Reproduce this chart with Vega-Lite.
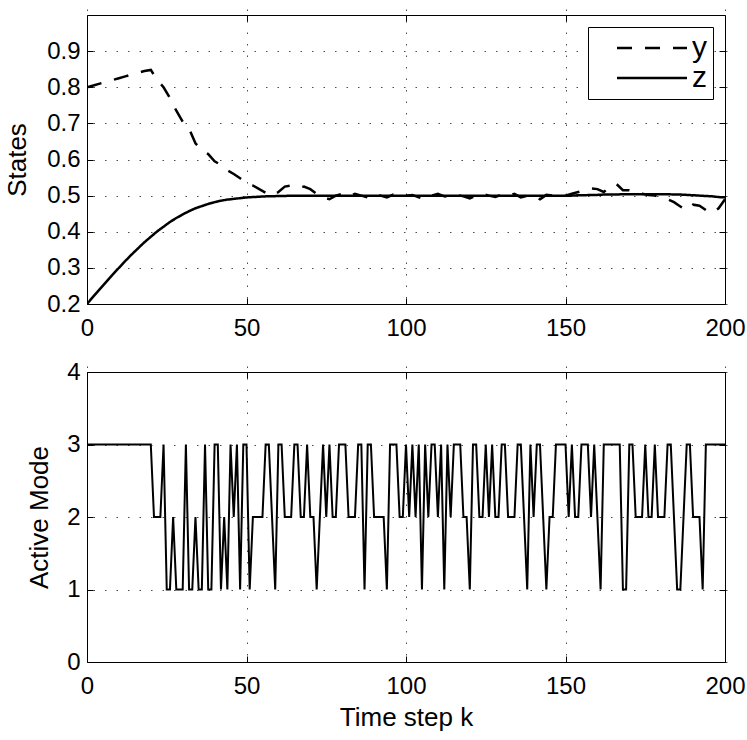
{
  "$schema": "https://vega.github.io/schema/vega-lite/v6.json",
  "autosize": "pad",
  "padding": {"left": 4, "top": 14, "right": 20, "bottom": 6},
  "spacing": 18,
  "config": {
    "font": "Liberation Sans",
    "view": {"stroke": "#000", "strokeWidth": 1},
    "axis": {
      "domain": false,
      "grid": true,
      "gridColor": "#000",
      "gridDash": [1.5, 10],
      "gridOpacity": 0.7,
      "tickColor": "#000",
      "tickSize": 6,
      "offset": -6,
      "labelFlush": false,
      "labelFont": "Liberation Sans",
      "labelFontSize": 24,
      "labelColor": "#000",
      "titleFont": "Liberation Sans",
      "titleFontSize": 26,
      "titleFontWeight": "normal",
      "titleColor": "#000"
    },
    "axisX": {"labelPadding": 12},
    "axisY": {"labelPadding": 7},
    "legend": {
      "orient": "top-right",
      "offset": 12,
      "strokeColor": "#000",
      "fillColor": "#fff",
      "padding": 6,
      "rowPadding": 0,
      "symbolType": "M-1,0H6",
      "symbolSize": 400,
      "symbolOffset": 18,
      "symbolStrokeWidth": 2.5,
      "symbolStrokeColor": "#000",
      "labelFont": "Liberation Sans",
      "labelFontSize": 30,
      "labelColor": "#000",
      "labelOffset": 50
    }
  },
  "datasets": {
    "states": [
      {"k": 0, "y": 0.800, "z": 0.200}, {"k": 2, "y": 0.805, "z": 0.221}, {"k": 4, "y": 0.810, "z": 0.241},
      {"k": 6, "y": 0.815, "z": 0.261}, {"k": 8, "y": 0.820, "z": 0.281}, {"k": 10, "y": 0.825, "z": 0.300},
      {"k": 12, "y": 0.830, "z": 0.319}, {"k": 14, "y": 0.835, "z": 0.337}, {"k": 16, "y": 0.840, "z": 0.354},
      {"k": 18, "y": 0.845, "z": 0.371}, {"k": 20, "y": 0.848, "z": 0.386}, {"k": 22, "y": 0.820, "z": 0.401},
      {"k": 24, "y": 0.800, "z": 0.414}, {"k": 26, "y": 0.770, "z": 0.427}, {"k": 28, "y": 0.735, "z": 0.438},
      {"k": 30, "y": 0.705, "z": 0.448}, {"k": 32, "y": 0.685, "z": 0.457}, {"k": 34, "y": 0.645, "z": 0.465},
      {"k": 36, "y": 0.625, "z": 0.471}, {"k": 38, "y": 0.615, "z": 0.477}, {"k": 40, "y": 0.595, "z": 0.482},
      {"k": 42, "y": 0.585, "z": 0.486}, {"k": 44, "y": 0.570, "z": 0.489}, {"k": 46, "y": 0.560, "z": 0.491},
      {"k": 48, "y": 0.548, "z": 0.493}, {"k": 50, "y": 0.535, "z": 0.495}, {"k": 52, "y": 0.528, "z": 0.496},
      {"k": 54, "y": 0.518, "z": 0.497}, {"k": 56, "y": 0.508, "z": 0.498}, {"k": 58, "y": 0.500, "z": 0.498},
      {"k": 60, "y": 0.510, "z": 0.499}, {"k": 62, "y": 0.525, "z": 0.499}, {"k": 64, "y": 0.528, "z": 0.500},
      {"k": 66, "y": 0.522, "z": 0.500}, {"k": 68, "y": 0.525, "z": 0.500}, {"k": 70, "y": 0.518, "z": 0.500},
      {"k": 72, "y": 0.505, "z": 0.500}, {"k": 74, "y": 0.495, "z": 0.500}, {"k": 76, "y": 0.490, "z": 0.500},
      {"k": 78, "y": 0.500, "z": 0.500}, {"k": 80, "y": 0.505, "z": 0.500}, {"k": 82, "y": 0.498, "z": 0.500},
      {"k": 84, "y": 0.505, "z": 0.500}, {"k": 86, "y": 0.500, "z": 0.500}, {"k": 88, "y": 0.495, "z": 0.500},
      {"k": 90, "y": 0.505, "z": 0.500}, {"k": 92, "y": 0.500, "z": 0.500}, {"k": 94, "y": 0.495, "z": 0.500},
      {"k": 96, "y": 0.503, "z": 0.500}, {"k": 98, "y": 0.498, "z": 0.500}, {"k": 100, "y": 0.500, "z": 0.500},
      {"k": 102, "y": 0.502, "z": 0.500}, {"k": 104, "y": 0.495, "z": 0.500}, {"k": 106, "y": 0.490, "z": 0.500},
      {"k": 108, "y": 0.500, "z": 0.500}, {"k": 110, "y": 0.505, "z": 0.500}, {"k": 112, "y": 0.498, "z": 0.500},
      {"k": 114, "y": 0.496, "z": 0.500}, {"k": 116, "y": 0.502, "z": 0.500}, {"k": 118, "y": 0.498, "z": 0.500},
      {"k": 120, "y": 0.492, "z": 0.500}, {"k": 122, "y": 0.500, "z": 0.500}, {"k": 124, "y": 0.505, "z": 0.500},
      {"k": 126, "y": 0.500, "z": 0.500}, {"k": 128, "y": 0.496, "z": 0.500}, {"k": 130, "y": 0.503, "z": 0.500},
      {"k": 132, "y": 0.499, "z": 0.500}, {"k": 134, "y": 0.505, "z": 0.500}, {"k": 136, "y": 0.495, "z": 0.500},
      {"k": 138, "y": 0.500, "z": 0.500}, {"k": 140, "y": 0.497, "z": 0.500}, {"k": 142, "y": 0.490, "z": 0.500},
      {"k": 144, "y": 0.502, "z": 0.500}, {"k": 146, "y": 0.500, "z": 0.500}, {"k": 148, "y": 0.497, "z": 0.500},
      {"k": 150, "y": 0.500, "z": 0.500}, {"k": 152, "y": 0.505, "z": 0.500}, {"k": 154, "y": 0.510, "z": 0.501},
      {"k": 156, "y": 0.515, "z": 0.501}, {"k": 158, "y": 0.520, "z": 0.502}, {"k": 160, "y": 0.518, "z": 0.502},
      {"k": 162, "y": 0.510, "z": 0.503}, {"k": 164, "y": 0.525, "z": 0.503}, {"k": 166, "y": 0.532, "z": 0.503},
      {"k": 168, "y": 0.515, "z": 0.504}, {"k": 170, "y": 0.515, "z": 0.504}, {"k": 172, "y": 0.508, "z": 0.504},
      {"k": 174, "y": 0.505, "z": 0.504}, {"k": 176, "y": 0.502, "z": 0.504}, {"k": 178, "y": 0.500, "z": 0.504},
      {"k": 180, "y": 0.495, "z": 0.504}, {"k": 182, "y": 0.490, "z": 0.504}, {"k": 184, "y": 0.482, "z": 0.503},
      {"k": 186, "y": 0.470, "z": 0.503}, {"k": 188, "y": 0.460, "z": 0.502}, {"k": 190, "y": 0.475, "z": 0.501},
      {"k": 192, "y": 0.472, "z": 0.500}, {"k": 194, "y": 0.460, "z": 0.499}, {"k": 196, "y": 0.452, "z": 0.498},
      {"k": 198, "y": 0.465, "z": 0.496}, {"k": 200, "y": 0.490, "z": 0.495}
    ],
    "modes": [
      {"k": 0, "mode": 3}, {"k": 1, "mode": 3}, {"k": 2, "mode": 3}, {"k": 3, "mode": 3}, {"k": 4, "mode": 3},
      {"k": 5, "mode": 3}, {"k": 6, "mode": 3}, {"k": 7, "mode": 3}, {"k": 8, "mode": 3}, {"k": 9, "mode": 3},
      {"k": 10, "mode": 3}, {"k": 11, "mode": 3}, {"k": 12, "mode": 3}, {"k": 13, "mode": 3}, {"k": 14, "mode": 3},
      {"k": 15, "mode": 3}, {"k": 16, "mode": 3}, {"k": 17, "mode": 3}, {"k": 18, "mode": 3}, {"k": 19, "mode": 3},
      {"k": 20, "mode": 3}, {"k": 21, "mode": 2}, {"k": 22, "mode": 2}, {"k": 23, "mode": 2}, {"k": 24, "mode": 3},
      {"k": 25, "mode": 1}, {"k": 26, "mode": 1}, {"k": 27, "mode": 2}, {"k": 28, "mode": 1}, {"k": 29, "mode": 1},
      {"k": 30, "mode": 1}, {"k": 31, "mode": 3}, {"k": 32, "mode": 1}, {"k": 33, "mode": 1}, {"k": 34, "mode": 2},
      {"k": 35, "mode": 1}, {"k": 36, "mode": 1}, {"k": 37, "mode": 3}, {"k": 38, "mode": 1}, {"k": 39, "mode": 1},
      {"k": 40, "mode": 3}, {"k": 41, "mode": 3}, {"k": 42, "mode": 1}, {"k": 43, "mode": 2}, {"k": 44, "mode": 1},
      {"k": 45, "mode": 3}, {"k": 46, "mode": 2}, {"k": 47, "mode": 3}, {"k": 48, "mode": 1}, {"k": 49, "mode": 3},
      {"k": 50, "mode": 3}, {"k": 51, "mode": 1}, {"k": 52, "mode": 2}, {"k": 53, "mode": 2}, {"k": 54, "mode": 2},
      {"k": 55, "mode": 2}, {"k": 56, "mode": 3}, {"k": 57, "mode": 3}, {"k": 58, "mode": 2}, {"k": 59, "mode": 1},
      {"k": 60, "mode": 3}, {"k": 61, "mode": 3}, {"k": 62, "mode": 2}, {"k": 63, "mode": 2}, {"k": 64, "mode": 2},
      {"k": 65, "mode": 3}, {"k": 66, "mode": 3}, {"k": 67, "mode": 2}, {"k": 68, "mode": 2}, {"k": 69, "mode": 3},
      {"k": 70, "mode": 2}, {"k": 71, "mode": 2}, {"k": 72, "mode": 1}, {"k": 73, "mode": 2}, {"k": 74, "mode": 3},
      {"k": 75, "mode": 2}, {"k": 76, "mode": 3}, {"k": 77, "mode": 2}, {"k": 78, "mode": 2}, {"k": 79, "mode": 3},
      {"k": 80, "mode": 3}, {"k": 81, "mode": 3}, {"k": 82, "mode": 2}, {"k": 83, "mode": 2}, {"k": 84, "mode": 2},
      {"k": 85, "mode": 3}, {"k": 86, "mode": 3}, {"k": 87, "mode": 1}, {"k": 88, "mode": 3}, {"k": 89, "mode": 3},
      {"k": 90, "mode": 2}, {"k": 91, "mode": 2}, {"k": 92, "mode": 2}, {"k": 93, "mode": 2}, {"k": 94, "mode": 1},
      {"k": 95, "mode": 3}, {"k": 96, "mode": 3}, {"k": 97, "mode": 3}, {"k": 98, "mode": 2}, {"k": 99, "mode": 2},
      {"k": 100, "mode": 3}, {"k": 101, "mode": 2}, {"k": 102, "mode": 3}, {"k": 103, "mode": 2}, {"k": 104, "mode": 3},
      {"k": 105, "mode": 1}, {"k": 106, "mode": 3}, {"k": 107, "mode": 2}, {"k": 108, "mode": 3}, {"k": 109, "mode": 3},
      {"k": 110, "mode": 2}, {"k": 111, "mode": 3}, {"k": 112, "mode": 1}, {"k": 113, "mode": 3}, {"k": 114, "mode": 2},
      {"k": 115, "mode": 3}, {"k": 116, "mode": 3}, {"k": 117, "mode": 3}, {"k": 118, "mode": 2}, {"k": 119, "mode": 2},
      {"k": 120, "mode": 1}, {"k": 121, "mode": 3}, {"k": 122, "mode": 3}, {"k": 123, "mode": 2}, {"k": 124, "mode": 2},
      {"k": 125, "mode": 3}, {"k": 126, "mode": 2}, {"k": 127, "mode": 3}, {"k": 128, "mode": 2}, {"k": 129, "mode": 2},
      {"k": 130, "mode": 3}, {"k": 131, "mode": 3}, {"k": 132, "mode": 2}, {"k": 133, "mode": 2}, {"k": 134, "mode": 2},
      {"k": 135, "mode": 3}, {"k": 136, "mode": 3}, {"k": 137, "mode": 2}, {"k": 138, "mode": 1}, {"k": 139, "mode": 3},
      {"k": 140, "mode": 2}, {"k": 141, "mode": 3}, {"k": 142, "mode": 3}, {"k": 143, "mode": 2}, {"k": 144, "mode": 1},
      {"k": 145, "mode": 2}, {"k": 146, "mode": 2}, {"k": 147, "mode": 3}, {"k": 148, "mode": 3}, {"k": 149, "mode": 3},
      {"k": 150, "mode": 3}, {"k": 151, "mode": 2}, {"k": 152, "mode": 3}, {"k": 153, "mode": 2}, {"k": 154, "mode": 2},
      {"k": 155, "mode": 3}, {"k": 156, "mode": 3}, {"k": 157, "mode": 3}, {"k": 158, "mode": 2}, {"k": 159, "mode": 3},
      {"k": 160, "mode": 2}, {"k": 161, "mode": 1}, {"k": 162, "mode": 3}, {"k": 163, "mode": 3}, {"k": 164, "mode": 3},
      {"k": 165, "mode": 3}, {"k": 166, "mode": 3}, {"k": 167, "mode": 3}, {"k": 168, "mode": 1}, {"k": 169, "mode": 1},
      {"k": 170, "mode": 3}, {"k": 171, "mode": 3}, {"k": 172, "mode": 2}, {"k": 173, "mode": 2}, {"k": 174, "mode": 2},
      {"k": 175, "mode": 3}, {"k": 176, "mode": 2}, {"k": 177, "mode": 2}, {"k": 178, "mode": 3}, {"k": 179, "mode": 2},
      {"k": 180, "mode": 2}, {"k": 181, "mode": 2}, {"k": 182, "mode": 3}, {"k": 183, "mode": 3}, {"k": 184, "mode": 2},
      {"k": 185, "mode": 1}, {"k": 186, "mode": 1}, {"k": 187, "mode": 2}, {"k": 188, "mode": 3}, {"k": 189, "mode": 3},
      {"k": 190, "mode": 2}, {"k": 191, "mode": 2}, {"k": 192, "mode": 2}, {"k": 193, "mode": 1}, {"k": 194, "mode": 3},
      {"k": 195, "mode": 3}, {"k": 196, "mode": 3}, {"k": 197, "mode": 3}, {"k": 198, "mode": 3}, {"k": 199, "mode": 3},
      {"k": 200, "mode": 3}
    ]
  },
  "vconcat": [
    {
      "width": 638,
      "height": 289,
      "data": {"name": "states"},
      "transform": [{"fold": ["y", "z"], "as": ["series", "value"]}],
      "layer": [
        {
          "mark": {"type": "line", "color": "#000", "strokeWidth": 2.5, "clip": true},
          "encoding": {
            "x": {
              "field": "k", "type": "quantitative",
              "scale": {"domain": [0, 200], "nice": false},
              "axis": {"values": [0, 50, 100, 150, 200], "title": null, "orient": "bottom"}
            },
            "y": {
              "field": "value", "type": "quantitative",
              "scale": {"domain": [0.2, 1.0], "nice": false, "zero": false},
              "axis": {"values": [0.2, 0.3, 0.4, 0.5, 0.6, 0.7, 0.8, 0.9], "title": "States", "titlePadding": 16, "orient": "left"}
            },
            "strokeDash": {
              "field": "series", "type": "nominal",
              "scale": {"domain": ["y", "z"], "range": [[15, 13], [1, 0]]},
              "legend": {"title": null}
            }
          }
        },
        {
          "mark": {"type": "line", "opacity": 0},
          "encoding": {
            "x": {
              "field": "k", "type": "quantitative",
              "axis": {"orient": "top", "values": [0, 50, 100, 150, 200], "labels": false, "grid": false, "title": null}
            },
            "y": {
              "field": "value", "type": "quantitative",
              "axis": {"orient": "right", "values": [0.2, 0.3, 0.4, 0.5, 0.6, 0.7, 0.8, 0.9], "labels": false, "grid": false, "title": null}
            }
          }
        }
      ],
      "resolve": {"axis": {"x": "independent", "y": "independent"}}
    },
    {
      "width": 638,
      "height": 290,
      "data": {"name": "modes"},
      "layer": [
        {
          "mark": {"type": "line", "color": "#000", "strokeWidth": 2},
          "encoding": {
            "x": {
              "field": "k", "type": "quantitative",
              "scale": {"domain": [0, 200], "nice": false},
              "axis": {"values": [0, 50, 100, 150, 200], "title": "Time step k", "titlePadding": 6, "orient": "bottom"}
            },
            "y": {
              "field": "mode", "type": "quantitative",
              "scale": {"domain": [0, 4], "nice": false},
              "axis": {"values": [0, 1, 2, 3, 4], "title": "Active Mode", "titlePadding": 14, "orient": "left"}
            }
          }
        },
        {
          "mark": {"type": "line", "opacity": 0},
          "encoding": {
            "x": {
              "field": "k", "type": "quantitative",
              "axis": {"orient": "top", "values": [0, 50, 100, 150, 200], "labels": false, "grid": false, "title": null}
            },
            "y": {
              "field": "mode", "type": "quantitative",
              "axis": {"orient": "right", "values": [0, 1, 2, 3, 4], "labels": false, "grid": false, "title": null}
            }
          }
        }
      ],
      "resolve": {"axis": {"x": "independent", "y": "independent"}}
    }
  ]
}
